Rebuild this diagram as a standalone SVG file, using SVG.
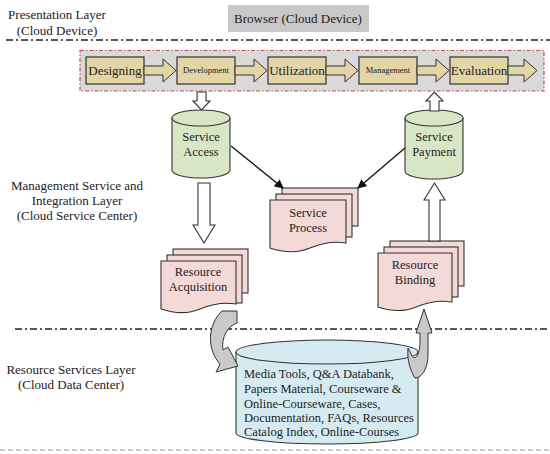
<svg xmlns="http://www.w3.org/2000/svg" width="550" height="454" viewBox="0 0 550 454">
<defs>
<marker id="ah" viewBox="0 0 10 10" refX="9" refY="5" markerWidth="7" markerHeight="7" orient="auto-start-reverse"><path d="M0,0 L10,5 L0,10 Z" fill="#111"/></marker>
<style>
text{font-family:"Liberation Serif","Times New Roman",serif;fill:#222}
.lbl{font-size:13px;text-anchor:middle}
.mid{text-anchor:middle}
.sep{stroke:#222;stroke-width:1.3;stroke-dasharray:7,3,2,3;fill:none}
.step{fill:#e3d5a6;stroke:#333;stroke-width:1.2}
.sarr{fill:#e3d5a6;stroke:#333;stroke-width:1}
.cyl{fill:#d8e6c6;stroke:#333;stroke-width:1.1}
.doc{fill:#f3d9d7;stroke:#333;stroke-width:1.1}
.db{fill:#d6ebf1;stroke:#333;stroke-width:1.1}
.blk{fill:#fff;stroke:#333;stroke-width:1.1}
.curv{fill:#c9c9c9;stroke:#333;stroke-width:1}
.ln{stroke:#111;stroke-width:1.3;fill:none}
</style>
</defs>

<!-- layer separators -->
<g id="separators">
<line class="sep" x1="6" y1="40" x2="550" y2="40"/>
<line class="sep" x1="15" y1="329" x2="550" y2="329"/>
<line x1="0" y1="450" x2="550" y2="450" stroke="#bbb" stroke-width="1.3" stroke-dasharray="5,3"/>
</g>

<!-- layer labels -->
<g id="labels">
<text class="lbl" x="57" y="19">Presentation Layer</text>
<text class="lbl" x="57" y="35">(Cloud Device)</text>
<text class="lbl" x="77" y="190">Management Service and</text>
<text class="lbl" x="77" y="205">Integration Layer</text>
<text class="lbl" x="77" y="220">(Cloud Service Center)</text>
<text class="lbl" x="71" y="374">Resource Services Layer</text>
<text class="lbl" x="71" y="389">(Cloud Data Center)</text>
</g>

<g id="browser">
<rect x="228" y="5" width="141" height="27" fill="#c8c8c8"/>
<text class="mid" x="298" y="23" font-size="13">Browser (Cloud Device)</text>
</g>

<g id="lifecycle">
<rect x="80" y="50.5" width="464" height="40.5" fill="#d9d9d9" stroke="#c0504d" stroke-width="1.2" stroke-dasharray="4,2,1.5,2"/>
</g>

<g id="designing">
<rect class="step" x="86" y="57" width="58" height="27"/>
<text class="mid" x="115" y="75" font-size="13">Designing</text>
</g>
<g id="development">
<rect class="step" x="177" y="57" width="58" height="27"/>
<text class="mid" x="206" y="73" font-size="8.5">Development</text>
</g>
<g id="utilization">
<rect class="step" x="268" y="57" width="58" height="27"/>
<text class="mid" x="297" y="75" font-size="13">Utilization</text>
</g>
<g id="management">
<rect class="step" x="359" y="57" width="58" height="27"/>
<text class="mid" x="388" y="73" font-size="8.5">Management</text>
</g>
<g id="evaluation">
<rect class="step" x="450" y="57" width="58" height="27"/>
<text class="mid" x="479" y="75" font-size="13">Evaluation</text>
</g>

<g id="service-access">
<path class="cyl" d="M172,118 V170 A29,8 0 0 0 230,170 V118 A29,8 0 0 0 172,118 Z"/>
<path class="cyl" d="M172,118 A29,8 0 0 0 230,118" fill="none"/>
<text class="mid" x="201" y="141" font-size="12.5">Service</text>
<text class="mid" x="201" y="156" font-size="12.5">Access</text>
</g>

<g id="service-payment">
<path class="cyl" d="M405,118 V171 A29,8 0 0 0 463,171 V118 A29,8 0 0 0 405,118 Z"/>
<path class="cyl" d="M405,118 A29,8 0 0 0 463,118" fill="none"/>
<text class="mid" x="434" y="141" font-size="12.5">Service</text>
<text class="mid" x="434" y="156" font-size="12.5">Payment</text>
</g>

<g id="service-process">
<rect class="doc" x="282" y="188" width="76" height="38"/>
<rect class="doc" x="276" y="194" width="76" height="43"/>
<path class="doc" d="M270,200 H346 V243 C334,241 322,243 310,248 C296,254 282,252 270,248 Z"/>
<text class="mid" x="308" y="217" font-size="12.5">Service</text>
<text class="mid" x="308" y="232" font-size="12.5">Process</text>
</g>

<g id="resource-acquisition">
<rect class="doc" x="173" y="249" width="75" height="44"/>
<rect class="doc" x="167" y="255" width="75" height="48"/>
<path class="doc" d="M161,261 H236 V304 C224,302 212,304 200,309 C186,315 173,313 161,309 Z"/>
<text class="mid" x="198" y="276" font-size="12.5">Resource</text>
<text class="mid" x="198" y="291" font-size="12.5">Acquisition</text>
</g>

<g id="resource-binding">
<rect class="doc" x="390" y="241" width="74" height="45"/>
<rect class="doc" x="384" y="247" width="74" height="50"/>
<path class="doc" d="M378,253 H452 V302 C440,300 428,302 416,307 C402,313 390,311 378,307 Z"/>
<text class="mid" x="415" y="269" font-size="12.5">Resource</text>
<text class="mid" x="415" y="284" font-size="12.5">Binding</text>
</g>

<g id="resource-database">
<path class="db" d="M236,352 V433 A91,11 0 0 0 418,433 V352 A91,12 0 0 0 236,352 Z"/>
<path class="db" d="M236,352 A91,12 0 0 0 418,352" fill="none"/>
<text x="244" y="378" font-size="12.5">Media Tools, Q&amp;A Databank,</text>
<text x="244" y="393" font-size="12.5">Papers Material, Courseware &amp;</text>
<text x="244" y="408" font-size="12.5">Online-Courseware, Cases,</text>
<text x="244" y="422" font-size="12.5">Documentation, FAQs, Resources</text>
<text x="244" y="436" font-size="12.5">Catalog Index, Online-Courses</text>
</g>

<g id="connectors">
<!-- lifecycle step arrows -->
<path class="sarr" d="M144,66 H163 V59 L176,70.5 L163,82 V75 H144 Z"/>
<path class="sarr" d="M235,66 H254 V59 L267,70.5 L254,82 V75 H235 Z"/>
<path class="sarr" d="M326,66 H345 V59 L358,70.5 L345,82 V75 H326 Z"/>
<path class="sarr" d="M417,66 H436 V59 L449,70.5 L436,82 V75 H417 Z"/>
<path class="sarr" d="M508,66 H524 V59 L537,70.5 L524,82 V75 H508 Z"/>
<!-- block arrows -->
<path class="blk" d="M197,92 H206 V101 H210 L201.5,110 L193,101 H197 Z"/>
<path class="blk" d="M430,111 H439 V101 H443 L434.5,92 L426,101 H430 Z"/>
<path class="blk" d="M198,183 H210 V225 H215 L204,243 L193,225 H198 Z"/>
<path class="blk" d="M429,241 H440 V200 H445 L434.5,183 L424,200 H429 Z"/>
<!-- thin arrows -->
<line class="ln" x1="231" y1="146" x2="283" y2="188" marker-end="url(#ah)"/>
<line class="ln" x1="405" y1="148" x2="358" y2="188" marker-end="url(#ah)"/>
<!-- curved arrows -->
<path class="curv" d="M222,311 H237 V323 C228,326 221,337 223,350 L228,347 L238,366 L216,372 L220,364 C207,350 207,325 222,311 Z"/>
<path class="curv" d="M424,309 L432,333 H428 V355 C428,368 422,378 415,378 C410,370 407,360 408,348 L412,356 C416,362 420,352 420,342 V333 H416 Z"/>
</g>
</svg>
